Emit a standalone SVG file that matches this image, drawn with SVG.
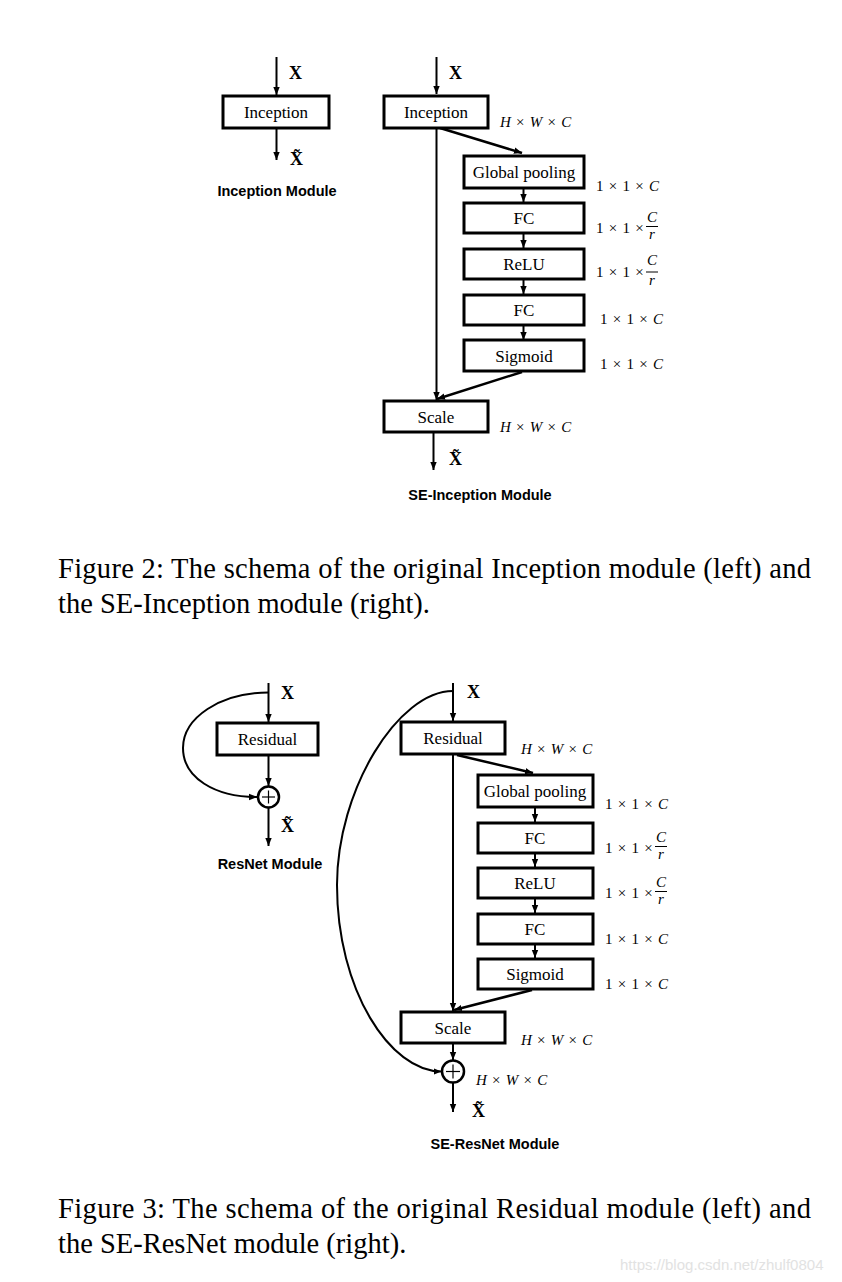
<svg xmlns="http://www.w3.org/2000/svg" width="842" height="1282" viewBox="0 0 842 1282">
<defs>
<marker id="ah" viewBox="0 0 8 8" refX="8" refY="4" markerWidth="8" markerHeight="8" markerUnits="userSpaceOnUse" orient="auto">
<path d="M0,0.8 L8,4 L0,7.2 Z" fill="#000"/>
</marker>
<style>
.box{fill:#fff;stroke:#000;stroke-width:3}
.bl{font-family:"Liberation Serif",serif;font-size:17px;fill:#000;text-anchor:middle}
.x{font-family:"Liberation Serif",serif;font-size:18px;font-weight:bold;fill:#000}
.mod{font-family:"Liberation Sans",sans-serif;font-size:14.5px;font-weight:bold;fill:#000;text-anchor:middle}
.dim{font-family:"Liberation Serif",serif;font-size:15px;fill:#000;word-spacing:1.5px}
.it{font-style:italic}
.cap{font-family:"Liberation Serif",serif;font-size:28.5px;fill:#000}
.ln{stroke:#000;stroke-width:2;fill:none}
.dg{stroke:#000;stroke-width:2.5;fill:none}
.circ{fill:#fff;stroke:#000;stroke-width:2.5}
.plus{stroke:#000;stroke-width:1.2}
.fb{stroke:#000;stroke-width:1}
</style>
</defs>
<rect width="842" height="1282" fill="#fff"/>

<g id="connectors">
<line class="ln" x1="276.5" y1="57" x2="276.5" y2="95" marker-end="url(#ah)"/>
<line class="ln" x1="276.5" y1="128" x2="276.5" y2="160" marker-end="url(#ah)"/>
<line class="ln" x1="436.5" y1="57" x2="436.5" y2="94" marker-end="url(#ah)"/>
<line class="ln" x1="436.5" y1="128" x2="436.5" y2="400" marker-end="url(#ah)"/>
<line class="dg" x1="440" y1="128" x2="522" y2="153" marker-end="url(#ah)"/>
<line class="ln" x1="523.5" y1="188" x2="523.5" y2="202" marker-end="url(#ah)"/>
<line class="ln" x1="523.5" y1="234" x2="523.5" y2="248" marker-end="url(#ah)"/>
<line class="ln" x1="523.5" y1="280" x2="523.5" y2="294" marker-end="url(#ah)"/>
<line class="ln" x1="523.5" y1="326" x2="523.5" y2="340" marker-end="url(#ah)"/>
<line class="dg" x1="522" y1="372" x2="437" y2="399" marker-end="url(#ah)"/>
<line class="ln" x1="433.5" y1="433" x2="433.5" y2="470" marker-end="url(#ah)"/>
<line class="ln" x1="268.5" y1="683" x2="268.5" y2="722" marker-end="url(#ah)"/>
<line class="ln" x1="268.5" y1="756" x2="268.5" y2="786" marker-end="url(#ah)"/>
<path class="ln" d="M268.5,692.5 C220,692.5 183,718 183,748 C183,778 215,797 257,797" marker-end="url(#ah)"/>
<line class="ln" x1="268.5" y1="808" x2="268.5" y2="846" marker-end="url(#ah)"/>
<line class="ln" x1="453" y1="683" x2="453" y2="721" marker-end="url(#ah)"/>
<line class="ln" x1="453" y1="755" x2="453" y2="1011" marker-end="url(#ah)"/>
<line class="dg" x1="457" y1="755" x2="533" y2="773" marker-end="url(#ah)"/>
<line class="ln" x1="535" y1="808" x2="535" y2="822" marker-end="url(#ah)"/>
<line class="ln" x1="535" y1="854" x2="535" y2="867" marker-end="url(#ah)"/>
<line class="ln" x1="535" y1="899" x2="535" y2="913" marker-end="url(#ah)"/>
<line class="ln" x1="535" y1="945" x2="535" y2="958" marker-end="url(#ah)"/>
<line class="dg" x1="532" y1="990" x2="454" y2="1010" marker-end="url(#ah)"/>
<line class="ln" x1="453" y1="1044" x2="453" y2="1060" marker-end="url(#ah)"/>
<path class="ln" d="M453,691 C398,691 337,790 337,885 C337,990 390,1071.5 441.5,1071.5" marker-end="url(#ah)"/>
<line class="ln" x1="453" y1="1083" x2="453" y2="1112" marker-end="url(#ah)"/>
</g>

<g id="inception-left">
<rect class="box" x="223" y="96" width="106" height="32"/>
<text class="bl" x="276" y="118">Inception</text>
</g>
<text class="x" x="289" y="79">X</text>
<text class="x" x="290" y="165">X&#x0303;</text>
<text class="mod" x="277" y="196">Inception Module</text>

<g id="inception-right">
<rect class="box" x="384" y="96" width="104" height="32"/>
<text class="bl" x="436" y="118">Inception</text>
</g>
<text class="x" x="449" y="79">X</text>
<text class="dim it" x="500" y="127">H <tspan font-style="normal">×</tspan> W <tspan font-style="normal">×</tspan> C</text>

<g id="gp1">
<rect class="box" x="464" y="156" width="120" height="32"/>
<text class="bl" x="524" y="178">Global pooling</text>
</g>
<text class="dim" x="596" y="191">1 × 1 × <tspan class="it">C</tspan></text>

<g id="fc1a">
<rect class="box" x="464" y="203" width="120" height="30"/>
<text class="bl" x="524" y="224">FC</text>
</g>
<text class="dim" x="596" y="233">1 × 1 ×</text>
<text class="dim it" x="652" y="222" text-anchor="middle">C</text>
<line class="fb" x1="646" y1="226.5" x2="658" y2="226.5"/>
<text class="dim it" x="652" y="239" text-anchor="middle" font-size="14">r</text>

<g id="relu1">
<rect class="box" x="464" y="249" width="120" height="30"/>
<text class="bl" x="524" y="270">ReLU</text>
</g>
<text class="dim" x="596" y="277">1 × 1 ×</text>
<text class="dim it" x="652" y="265" text-anchor="middle">C</text>
<line class="fb" x1="646" y1="272" x2="658" y2="272"/>
<text class="dim it" x="652" y="285" text-anchor="middle" font-size="14">r</text>

<g id="fc1b">
<rect class="box" x="464" y="295" width="120" height="30"/>
<text class="bl" x="524" y="316">FC</text>
</g>
<text class="dim" x="600" y="324">1 × 1 × <tspan class="it">C</tspan></text>

<g id="sig1">
<rect class="box" x="464" y="340" width="120" height="31"/>
<text class="bl" x="524" y="362">Sigmoid</text>
</g>
<text class="dim" x="600" y="369">1 × 1 × <tspan class="it">C</tspan></text>

<g id="scale1">
<rect class="box" x="384" y="401" width="104" height="31"/>
<text class="bl" x="436" y="423">Scale</text>
</g>
<text class="dim it" x="500" y="432">H <tspan font-style="normal">×</tspan> W <tspan font-style="normal">×</tspan> C</text>
<text class="x" x="449" y="465">X&#x0303;</text>
<text class="mod" x="480" y="500">SE-Inception Module</text>

<text class="cap" x="58" y="578" textLength="753" lengthAdjust="spacing">Figure 2: The schema of the original Inception module (left) and</text>
<text class="cap" x="58" y="613">the SE-Inception module (right).</text>

<g id="residual-left">
<rect class="box" x="217" y="723" width="101" height="32"/>
<text class="bl" x="267.5" y="745">Residual</text>
</g>
<text class="x" x="281" y="699">X</text>
<g id="add-left">
<circle class="circ" cx="268.5" cy="797" r="10.5"/>
<line class="plus" x1="262" y1="797" x2="275" y2="797"/>
<line class="plus" x1="268.5" y1="790.5" x2="268.5" y2="803.5"/>
</g>
<text class="x" x="281" y="832">X&#x0303;</text>
<text class="mod" x="270" y="869">ResNet Module</text>

<g id="residual-right">
<rect class="box" x="401" y="722" width="104" height="32"/>
<text class="bl" x="453" y="744">Residual</text>
</g>
<text class="x" x="467" y="698">X</text>
<text class="dim it" x="521" y="754">H <tspan font-style="normal">×</tspan> W <tspan font-style="normal">×</tspan> C</text>

<g id="gp2">
<rect class="box" x="478" y="775" width="115" height="32"/>
<text class="bl" x="535" y="797">Global pooling</text>
</g>
<text class="dim" x="605" y="809">1 × 1 × <tspan class="it">C</tspan></text>

<g id="fc2a">
<rect class="box" x="478" y="823" width="115" height="30"/>
<text class="bl" x="535" y="844">FC</text>
</g>
<text class="dim" x="605" y="853">1 × 1 ×</text>
<text class="dim it" x="661" y="842" text-anchor="middle">C</text>
<line class="fb" x1="655" y1="846.5" x2="667" y2="846.5"/>
<text class="dim it" x="661" y="859" text-anchor="middle" font-size="14">r</text>

<g id="relu2">
<rect class="box" x="478" y="868" width="115" height="30"/>
<text class="bl" x="535" y="889">ReLU</text>
</g>
<text class="dim" x="605" y="898">1 × 1 ×</text>
<text class="dim it" x="661" y="887" text-anchor="middle">C</text>
<line class="fb" x1="655" y1="891.5" x2="667" y2="891.5"/>
<text class="dim it" x="661" y="904" text-anchor="middle" font-size="14">r</text>

<g id="fc2b">
<rect class="box" x="478" y="914" width="115" height="30"/>
<text class="bl" x="535" y="935">FC</text>
</g>
<text class="dim" x="605" y="944">1 × 1 × <tspan class="it">C</tspan></text>

<g id="sig2">
<rect class="box" x="478" y="959" width="115" height="30"/>
<text class="bl" x="535" y="980">Sigmoid</text>
</g>
<text class="dim" x="605" y="989">1 × 1 × <tspan class="it">C</tspan></text>

<g id="scale2">
<rect class="box" x="401" y="1012" width="104" height="31"/>
<text class="bl" x="453" y="1034">Scale</text>
</g>
<text class="dim it" x="521" y="1045">H <tspan font-style="normal">×</tspan> W <tspan font-style="normal">×</tspan> C</text>

<g id="add-right">
<circle class="circ" cx="453" cy="1071.5" r="11"/>
<line class="plus" x1="446" y1="1071.5" x2="460" y2="1071.5"/>
<line class="plus" x1="453" y1="1064.5" x2="453" y2="1078.5"/>
</g>
<text class="dim it" x="476" y="1085">H <tspan font-style="normal">×</tspan> W <tspan font-style="normal">×</tspan> C</text>
<text class="x" x="472" y="1117">X&#x0303;</text>
<text class="mod" x="495" y="1149">SE-ResNet Module</text>

<text class="cap" x="58" y="1218" textLength="753" lengthAdjust="spacing">Figure 3: The schema of the original Residual module (left) and</text>
<text class="cap" x="58" y="1253">the SE-ResNet module (right).</text>

<text x="620" y="1270" font-family="Liberation Sans, sans-serif" font-size="15" fill="#e2e2e2">https://blog.csdn.net/zhulf0804</text>
</svg>
